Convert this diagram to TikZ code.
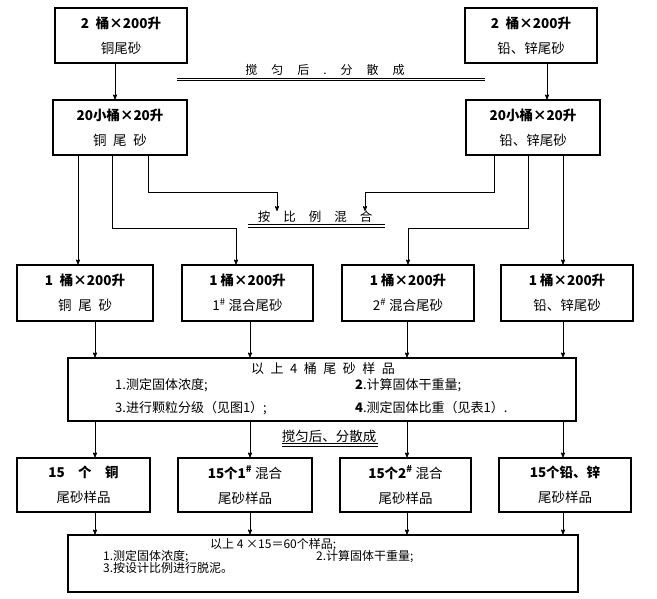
\documentclass[tikz,border=0pt]{standalone}
\usepackage{fontspec}
\setmainfont{Noto Sans CJK SC}
\usetikzlibrary{arrows,shapes}

\begin{document}
\begin{tikzpicture}[x=1pt,y=-1pt,
  box/.style={draw,line width=1.2pt,minimum height=55pt,align=center,inner sep=0pt,
    font=\fontsize{13.5}{25}\selectfont},
  bigbox/.style={draw,line width=1.2pt,inner sep=0pt},
  txt/.style={inner sep=0pt,font=\fontsize{13}{14}\selectfont},
  small/.style={inner sep=0pt,anchor=west,font=\fontsize{12}{13}\selectfont},
  flow/.style={->,>=stealth',line width=0.8pt},
  uline/.style={line width=0.7pt}]
\useasboundingbox (0,0) rectangle (657,599);

% columns and bends
\coordinate (tl) at (115,0);
\coordinate (tr) at (547,0);
\coordinate (la) at (78,0);
\coordinate (lb) at (112,0);
\coordinate (lc) at (148,0);
\coordinate (ra) at (494,0);
\coordinate (rb) at (528,0);
\coordinate (rc) at (563,0);
\coordinate (jlb) at (236,228);
\coordinate (jlc) at (277,192);
\coordinate (jra) at (365,192);
\coordinate (jrb) at (408,228);
\coordinate (cA) at (95,0);
\coordinate (cB) at (250,0);
\coordinate (cC) at (407,0);
\coordinate (cD) at (563,0);

% first two rows
\node (T1) at (121,35.5)[box,minimum width=132pt] {\textbf{2\enspace 桶×200升}\\铜尾砂};
\node (T2) at (531,35.5)[box,minimum width=132pt] {\textbf{2\enspace 桶×200升}\\铅、锌尾砂};
\node (M1) at (120,127.5)[box,minimum width=134pt] {\textbf{20小桶×20升}\\铜\enspace 尾\enspace 砂};
\node (M2) at (533,127.5)[box,minimum width=134pt] {\textbf{20小桶×20升}\\铅、锌尾砂};

\node (split) at (325,70)[txt,font=\fontsize{12}{14}\selectfont] {搅\hspace{14pt}匀\hspace{14pt}后\hspace{14pt}.\hspace{14pt}分\hspace{14pt}散\hspace{14pt}成};
\draw [uline] (177,78) -- (485,78);
\draw [uline] (177,80.5) -- (485,80.5);
\node (mix) at (315,217)[txt,font=\fontsize{12.5}{14}\selectfont] {按\hspace{13pt}比\hspace{13pt}例\hspace{13pt}混\hspace{13pt}合};
\draw [uline] (248,224.5) -- (385,224.5);
\draw [uline] (248,227) -- (385,227);

% row of 4 barrels
\node (R1) at (85,293)[box,minimum width=136pt,minimum height=56pt] {\textbf{1\enspace 桶×200升}\\铜\enspace 尾\enspace 砂};
\node (R2) at (247.5,293)[box,minimum width=131pt,minimum height=56pt] {\textbf{1 桶×200升}\\1\textsuperscript{\#} 混合尾砂};
\node (R3) at (408,293)[box,minimum width=132pt,minimum height=56pt] {\textbf{1 桶×200升}\\2\textsuperscript{\#} 混合尾砂};
\node (R4) at (567,293)[box,minimum width=132pt,minimum height=56pt] {\textbf{1 桶×200升}\\铅、锌尾砂};

\node (B1) at (322,389.5)[bigbox,minimum width=508pt,minimum height=63pt] {};
\node (B1t) at (323,369)[txt] {以\enspace 上\enspace 4\enspace 桶\enspace 尾\enspace 砂\enspace 样\enspace 品};
\node (B1a) at (115,385)[txt,anchor=west] {1.测定固体浓度;};
\node (B1b) at (355,385)[txt,anchor=west] {\textbf{2}.计算固体干重量;};
\node (B1c) at (115,408)[txt,anchor=west] {3.进行颗粒分级（见图1）;};
\node (B1d) at (355,408)[txt,anchor=west] {\textbf{4}.测定固体比重（见表1）.};

\node (again) at (329,436)[txt,font=\fontsize{13.5}{14}\selectfont] {搅匀后、分散成};
\draw [uline] (282,443.5) -- (378,443.5);
\draw [uline] (282,446) -- (378,446);

% row of samples
\node (S1) at (83.5,485)[box,minimum width=133pt,minimum height=54pt] {\textbf{15\quad 个\quad 铜}\\尾砂样品};
\node (S2) at (245,485)[box,minimum width=134pt,minimum height=54pt] {\textbf{15个1\textsuperscript{\#}} 混合\\尾砂样品};
\node (S3) at (405.5,485)[box,minimum width=131pt,minimum height=54pt] {\textbf{15个2\textsuperscript{\#}} 混合\\尾砂样品};
\node (S4) at (565,485)[box,minimum width=132pt,minimum height=54pt] {\textbf{15个铅、锌}\\尾砂样品};

\node (B2) at (323,563.5)[bigbox,minimum width=510pt,minimum height=57pt] {};
\node (B2t) at (210,545)[small] {以上 4 ×15＝60个样品;};
\node (B2a) at (103,556.5)[small] {1.测定固体浓度;};
\node (B2b) at (316,556.5)[small] {2.计算固体干重量;};
\node (B2c) at (103,568)[small] {3.按设计比例进行脱泥。};

% connectors
\draw [flow] (T1.south -| tl) -- (M1.north -| tl);
\draw [flow] (T2.south -| tr) -- (M2.north -| tr);
\draw [flow] (M1.south -| la) -- (R1.north -| la);
\draw [flow] (M1.south -| lb) |- (jlb) -- (R2.north -| jlb);
\draw [flow] (M1.south -| lc) |- (jlc) -- (mix.north -| jlc);
\draw [flow] (M2.south -| ra) |- (jra) -- (mix.north -| jra);
\draw [flow] (M2.south -| rb) |- (jrb) -- (R3.north -| jrb);
\draw [flow] (M2.south -| rc) -- (R4.north -| rc);
\foreach \c/\n in {cA/1,cB/2,cC/3,cD/4}{
  \draw [flow] (R\n.south -| \c) -- (B1.north -| \c);
  \draw [flow] (B1.south -| \c) -- (S\n.north -| \c);
  \draw [flow] (S\n.south -| \c) -- (B2.north -| \c);
}
\end{tikzpicture}
\end{document}
